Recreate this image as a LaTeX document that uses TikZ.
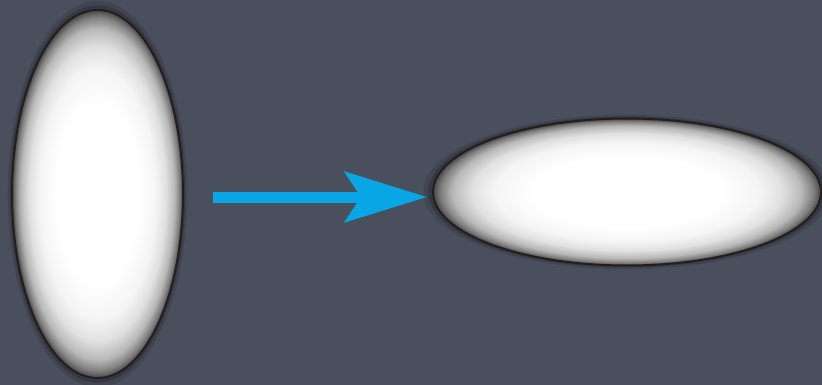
\documentclass[tikz,border=0pt]{standalone}
\usepackage{xcolor}
\usepackage{tikz}
\usetikzlibrary{positioning,arrows.meta,shapes.geometric,shadows}

\definecolor{slate}{RGB}{74,79,93}
\definecolor{rimdark}{RGB}{38,30,30}
\definecolor{arrowblue}{RGB}{8,166,228}
\pgfdeclareradialshading{glow}{\pgfpoint{0bp}{0bp}}{color(0bp)=(white); color(12bp)=(white); color(17bp)=(black!4); color(20bp)=(black!12); color(22.5bp)=(black!28); color(24bp)=(black!50); color(25bp)=(black!72); color(50bp)=(black!72)}

\begin{document}
\begin{tikzpicture}[
  x=1pt, y=-1pt,
  blob/.style={ellipse, draw=rimdark, line width=2pt, inner sep=0pt, shading=glow,
    general shadow={shadow scale=1.05, fill=black, opacity=.12},
    general shadow={shadow scale=1.025, fill=black, opacity=.18}},
  arr/.style={-{Stealth[length=82pt, width=50pt, inset=16pt]}, line width=11pt, draw=arrowblue}
]
\fill[slate] (0,0) rectangle (822,385);
\useasboundingbox (0,0) rectangle (822,385);

\node[blob, minimum width=171pt, minimum height=368pt] (tall) at (97.5,194) {};
\node[blob, minimum width=388pt, minimum height=147pt] (wide) at (627,192) {};

\draw[arr, shorten <=29pt, shorten >=5pt] ([yshift=-3pt]tall.east) -- ([yshift=-3pt]tall.east -| wide.west);
\end{tikzpicture}
\end{document}
